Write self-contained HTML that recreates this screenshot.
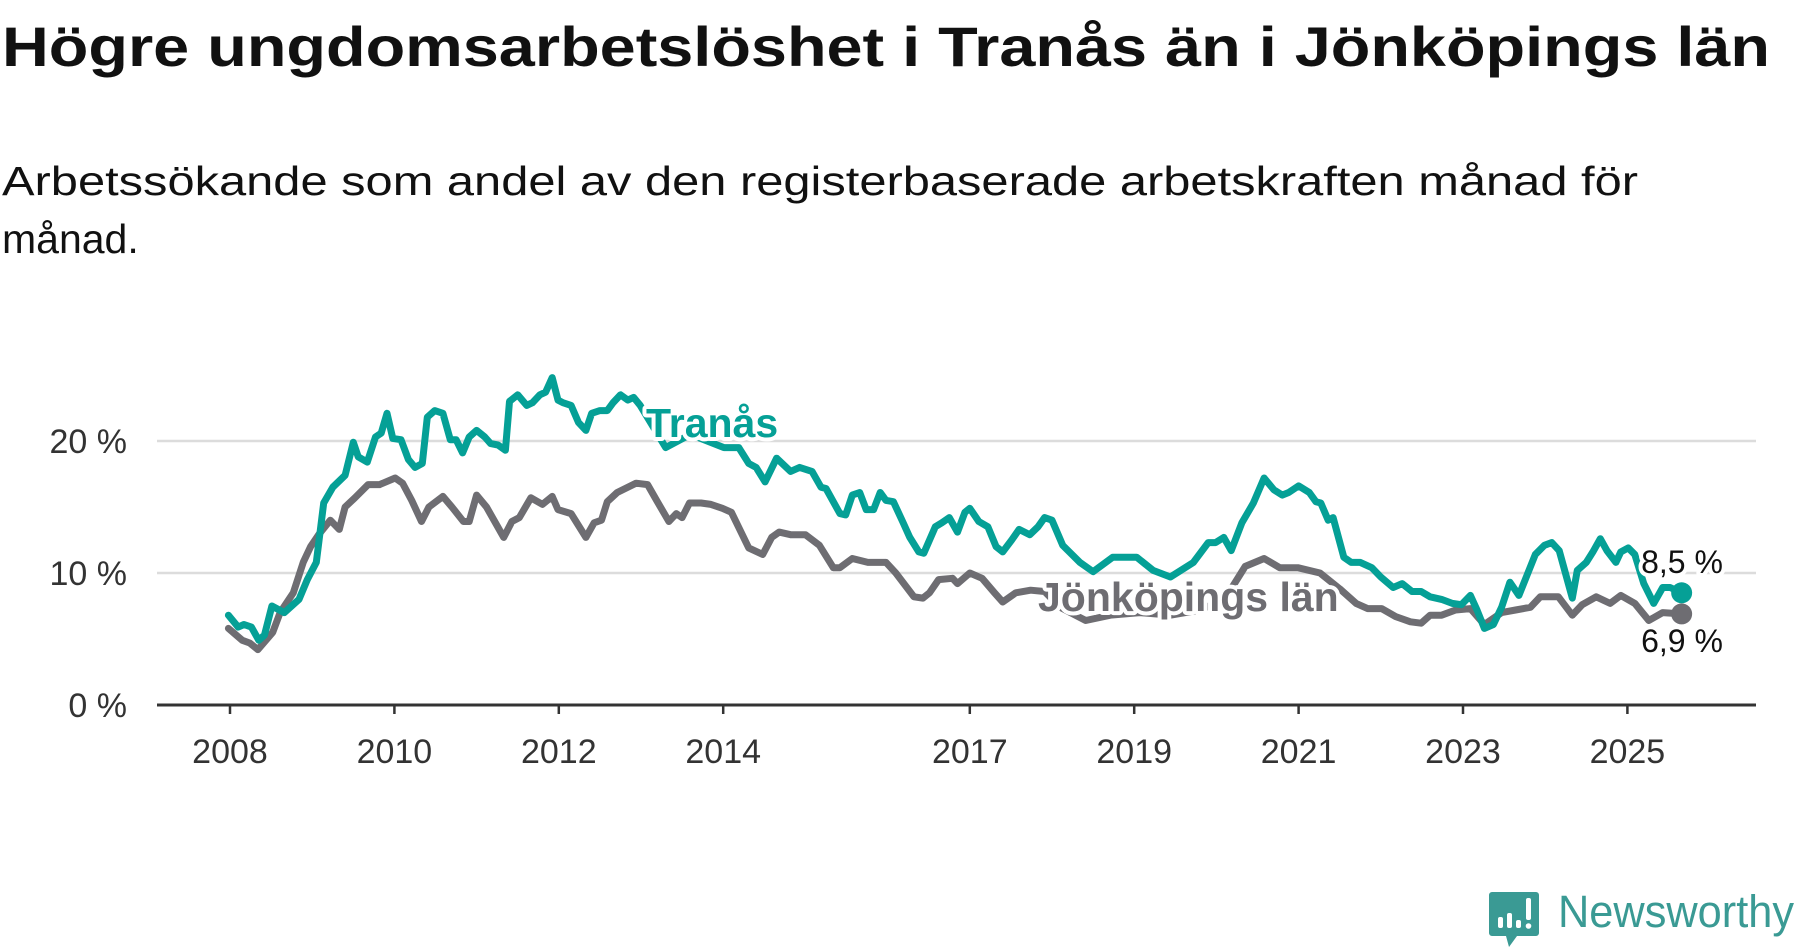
<!DOCTYPE html>
<html><head><meta charset="utf-8"><style>
html,body{margin:0;padding:0;background:#fff;width:1800px;height:948px;overflow:hidden}
svg{display:block;font-family:"Liberation Sans",sans-serif}
</style></head><body>
<svg id="chart" width="1800" height="948" viewBox="0 0 1800 948">
<text x="2" y="66" font-size="56" font-weight="bold" fill="#111" textLength="1768" lengthAdjust="spacingAndGlyphs">Högre ungdomsarbetslöshet i Tranås än i Jönköpings län</text>
<text x="2" y="195" font-size="41" fill="#111" textLength="1636" lengthAdjust="spacingAndGlyphs">Arbetssökande som andel av den registerbaserade arbetskraften månad för</text>
<text x="2" y="253" font-size="41" fill="#111">månad.</text>
<g id="grid"></g>
<g id="yaxis"></g>
<g id="xaxis"></g>
<g id="series"></g>
<g id="labels"></g>
<g>
<path d="M1492 892 h44 a3 3 0 0 1 3 3 v38 a3 3 0 0 1 -3 3 h-19 l-8 11 l-3 -11 h-14 a3 3 0 0 1 -3 -3 v-38 a3 3 0 0 1 3 -3z" fill="#3a9a94"/>
<rect x="1498" y="917" width="5" height="11" rx="2" fill="#fff"/>
<rect x="1507" y="913" width="5" height="15" rx="2" fill="#fff"/>
<rect x="1516" y="920" width="5" height="8" rx="2" fill="#fff"/>
<rect x="1526" y="898" width="5" height="22" rx="2" fill="#fff"/>
<circle cx="1528.5" cy="926" r="2.8" fill="#fff"/>
<text x="1558" y="927" font-size="45" fill="#3a9a94" textLength="236" lengthAdjust="spacingAndGlyphs">Newsworthy</text>
</g>
</svg>
<script>
const tranasDates=[2007.98,2008.10,2008.17,2008.26,2008.35,2008.42,2008.51,2008.66,2008.84,2008.94,2009.05,2009.14,2009.25,2009.40,2009.50,2009.56,2009.67,2009.77,2009.84,2009.91,2009.98,2010.08,2010.17,2010.25,2010.34,2010.40,2010.49,2010.59,2010.68,2010.75,2010.83,2010.91,2011.00,2011.10,2011.17,2011.26,2011.35,2011.40,2011.50,2011.61,2011.68,2011.77,2011.84,2011.92,2011.99,2012.05,2012.15,2012.24,2012.33,2012.40,2012.50,2012.59,2012.66,2012.75,2012.84,2012.91,2012.99,2013.30,2013.60,2014.01,2014.19,2014.31,2014.40,2014.51,2014.65,2014.82,2014.93,2015.08,2015.19,2015.25,2015.42,2015.49,2015.57,2015.66,2015.74,2015.83,2015.91,2015.98,2016.07,2016.19,2016.27,2016.38,2016.44,2016.58,2016.66,2016.75,2016.85,2016.94,2017.00,2017.11,2017.22,2017.32,2017.40,2017.51,2017.60,2017.73,2017.83,2017.91,2018.00,2018.13,2018.34,2018.50,2018.74,2019.03,2019.23,2019.44,2019.72,2019.90,2019.99,2020.09,2020.18,2020.31,2020.45,2020.58,2020.70,2020.80,2020.88,2021.00,2021.13,2021.21,2021.27,2021.36,2021.42,2021.55,2021.64,2021.75,2021.89,2022.00,2022.15,2022.26,2022.38,2022.49,2022.60,2022.74,2022.87,2022.98,2023.09,2023.17,2023.26,2023.37,2023.47,2023.57,2023.68,2023.79,2023.88,2023.99,2024.08,2024.17,2024.33,2024.39,2024.50,2024.58,2024.67,2024.75,2024.86,2024.92,2025.01,2025.09,2025.20,2025.32,2025.43,2025.52,2025.66];
const tranasValues=[6.8,5.9,6.1,5.9,4.9,5.3,7.5,7.0,8.0,9.5,10.8,15.3,16.5,17.4,19.9,18.8,18.4,20.3,20.6,22.1,20.2,20.1,18.6,18.0,18.3,21.8,22.3,22.1,20.1,20.1,19.1,20.3,20.8,20.3,19.8,19.7,19.3,23.0,23.5,22.7,22.9,23.5,23.7,24.8,23.1,22.9,22.7,21.4,20.8,22.1,22.3,22.3,22.9,23.5,23.1,23.3,22.7,19.5,20.5,19.5,19.5,18.3,18.0,16.9,18.7,17.7,18.0,17.7,16.5,16.4,14.5,14.4,15.9,16.1,14.8,14.8,16.1,15.5,15.4,13.8,12.7,11.6,11.5,13.5,13.8,14.2,13.1,14.6,14.9,13.9,13.5,12.0,11.6,12.5,13.3,12.9,13.5,14.2,14.0,12.1,10.8,10.1,11.2,11.2,10.2,9.7,10.8,12.3,12.3,12.7,11.7,13.8,15.3,17.2,16.3,15.9,16.1,16.6,16.1,15.4,15.3,14.0,14.2,11.2,10.8,10.8,10.4,9.7,8.9,9.2,8.6,8.6,8.2,8.0,7.7,7.6,8.3,7.2,5.8,6.1,7.4,9.3,8.3,10.0,11.4,12.1,12.3,11.7,8.1,10.2,10.8,11.6,12.6,11.7,10.8,11.6,11.9,11.4,9.2,7.7,8.9,8.9,8.5];
const lanDates=[2007.98,2008.15,2008.24,2008.34,2008.52,2008.61,2008.77,2008.89,2008.98,2009.09,2009.22,2009.33,2009.40,2009.52,2009.68,2009.82,2010.01,2010.10,2010.21,2010.33,2010.42,2010.59,2010.70,2010.84,2010.91,2011.00,2011.12,2011.33,2011.43,2011.52,2011.66,2011.80,2011.92,2011.99,2012.15,2012.33,2012.43,2012.52,2012.59,2012.71,2012.94,2013.08,2013.19,2013.34,2013.43,2013.50,2013.59,2013.73,2013.85,2013.99,2014.10,2014.31,2014.48,2014.59,2014.68,2014.82,2015.00,2015.17,2015.34,2015.42,2015.57,2015.76,2015.98,2016.10,2016.32,2016.43,2016.51,2016.62,2016.79,2016.85,2017.00,2017.15,2017.30,2017.40,2017.56,2017.74,2017.91,2018.10,2018.41,2018.71,2019.07,2019.44,2019.80,2020.10,2020.35,2020.58,2020.77,2020.99,2021.26,2021.50,2021.70,2021.84,2022.01,2022.18,2022.36,2022.49,2022.60,2022.74,2022.91,2023.09,2023.26,2023.47,2023.64,2023.82,2023.94,2024.16,2024.33,2024.45,2024.62,2024.79,2024.92,2025.09,2025.26,2025.43,2025.66];
const lanValues=[5.8,4.9,4.7,4.2,5.5,7.0,8.5,10.8,12.0,13.0,14.0,13.3,15.0,15.7,16.7,16.7,17.2,16.8,15.5,13.9,15.0,15.8,15.0,13.9,13.9,15.9,15.0,12.7,13.9,14.2,15.7,15.2,15.8,14.8,14.5,12.7,13.8,14.0,15.4,16.1,16.8,16.7,15.5,13.9,14.5,14.2,15.3,15.3,15.2,14.9,14.6,11.9,11.4,12.7,13.1,12.9,12.9,12.1,10.4,10.4,11.1,10.8,10.8,10.0,8.2,8.1,8.5,9.5,9.6,9.2,10.0,9.6,8.5,7.8,8.5,8.7,8.6,7.4,6.4,6.8,7.0,6.8,7.2,8.0,10.5,11.1,10.4,10.4,10.0,8.8,7.7,7.3,7.3,6.7,6.3,6.2,6.8,6.8,7.2,7.3,6.1,7.0,7.2,7.4,8.2,8.2,6.8,7.6,8.2,7.7,8.3,7.7,6.4,7.0,6.9];
const xTicks=[2008,2010,2012,2014,2017,2019,2021,2023,2025];
const yTicks=[0,10,20];
const yTickLabels=["0 %","10 %","20 %"];
const endLabels=["8,5 %","6,9 %"];

const NS="http://www.w3.org/2000/svg";
const X=y=>230+(y-2008)*82.2;
const Y=v=>705-v*13.2;
function mk(tag,attrs,parent){const e=document.createElementNS(NS,tag);for(const k in attrs)e.setAttribute(k,attrs[k]);parent.appendChild(e);return e;}
const grid=document.getElementById('grid'),yax=document.getElementById('yaxis'),xax=document.getElementById('xaxis'),ser=document.getElementById('series'),lab=document.getElementById('labels');
yTicks.forEach((t,i)=>{
  if(t>0){const g=mk('line',{x1:157,x2:1756,y1:Y(t),y2:Y(t),stroke:'#dcdcdc','stroke-width':2.5},grid);
  
  }
  const tx=mk('text',{x:127,y:Y(t)+12,'text-anchor':'end','font-size':34,fill:'#333'},yax);
  tx.textContent=yTickLabels[i];
  
  
});
const base=mk('line',{x1:157,x2:1756,y1:Y(0),y2:Y(0),stroke:'#333','stroke-width':3},xax);


xTicks.forEach(t=>{
  const tk=mk('line',{x1:X(t),x2:X(t),y1:Y(0),y2:Y(0)+9,stroke:'#333','stroke-width':2.5},xax);
  
  
  const tx=mk('text',{x:X(t),y:763,'text-anchor':'middle','font-size':34,fill:'#333'},xax);
  tx.textContent=t;
  
  
});
function line(d,v,color,name){
  const p=d.map((t,i)=>(i?'L':'M')+X(t).toFixed(1)+' '+Y(v[i]).toFixed(1)).join('');
  const el=mk('path',{d:p,fill:'none',stroke:color,'stroke-width':7,'stroke-linejoin':'round','stroke-linecap':'round'},ser);
  
  
  const n=d.length-1;
  const c=mk('circle',{cx:X(d[n]),cy:Y(v[n]),r:10.5,fill:color},ser);
  
  
}
line(lanDates,lanValues,'#6e6d72','line-jonkopings-lan');
line(tranasDates,tranasValues,'#05a096','line-tranas');
function label(txt,x,y,size,color,weight,name,anchor){
  const t=mk('text',{x:x,y:y,'font-size':size,fill:color,'font-weight':weight,stroke:'#fff','stroke-width':8,'paint-order':'stroke','stroke-linejoin':'round','text-anchor':anchor||'start'},lab);
  t.textContent=txt;
  
  
}
label('Tranås',646,437,41,'#05a096','bold','label-tranas');
label('Jönköpings län',1038,611,41,'#6e6d72','bold','label-jonkopings-lan');
label(endLabels[0],1682,573,32,'#111','normal','end-label-tranas','middle');
label(endLabels[1],1682,652,32,'#111','normal','end-label-lan','middle');
</script>
</body></html>
